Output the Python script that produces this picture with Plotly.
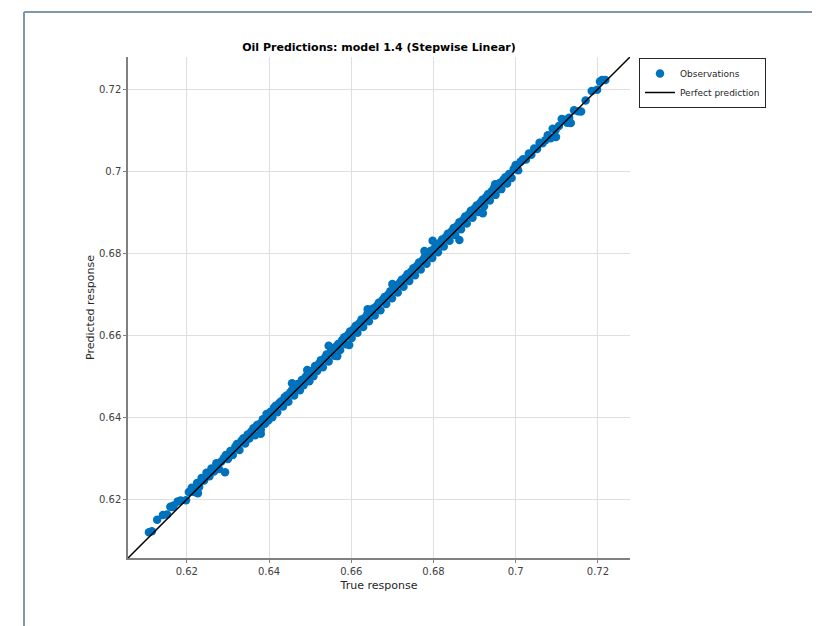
import plotly.graph_objects as go

# ---- data ----
true_resp = [
    0.6108, 0.6115, 0.6128, 0.6142, 0.6152, 0.6160, 0.6168, 0.6178, 0.6185, 0.6198,
    0.6205, 0.6212, 0.6218, 0.6225, 0.6230, 0.6236, 0.6242, 0.6248, 0.6255, 0.6260,
    0.6266, 0.6272, 0.6278, 0.6284, 0.6290, 0.6295, 0.6300, 0.6306, 0.6312, 0.6318,
    0.6322, 0.6328, 0.6333, 0.6338, 0.6342, 0.6348, 0.6352, 0.6357, 0.6362, 0.6366,
    0.6371, 0.6376, 0.6380, 0.6385, 0.6390, 0.6394, 0.6398, 0.6403, 0.6408, 0.6412,
    0.6416, 0.6420, 0.6425, 0.6430, 0.6434, 0.6438, 0.6443, 0.6447, 0.6452, 0.6456,
    0.6461, 0.6466, 0.6470, 0.6475, 0.6480, 0.6484, 0.6489, 0.6494, 0.6498, 0.6503,
    0.6508, 0.6512, 0.6517, 0.6522, 0.6526, 0.6531, 0.6536, 0.6540, 0.6545, 0.6550,
    0.6555, 0.6559, 0.6564, 0.6569, 0.6573, 0.6578, 0.6583, 0.6587, 0.6592, 0.6597,
    0.6601, 0.6606, 0.6611, 0.6615, 0.6620, 0.6625, 0.6629, 0.6634, 0.6639, 0.6643,
    0.6648, 0.6653, 0.6657, 0.6662, 0.6667, 0.6671, 0.6676, 0.6681, 0.6685, 0.6690,
    0.6695, 0.6699, 0.6704, 0.6709, 0.6713, 0.6718, 0.6723, 0.6727, 0.6732, 0.6737,
    0.6741, 0.6746, 0.6751, 0.6755, 0.6760, 0.6765, 0.6769, 0.6774, 0.6779, 0.6783,
    0.6788, 0.6793, 0.6797, 0.6802, 0.6807, 0.6811, 0.6816, 0.6821, 0.6825, 0.6830,
    0.6835, 0.6839, 0.6844, 0.6849, 0.6853, 0.6858, 0.6863, 0.6867, 0.6872, 0.6877,
    0.6881, 0.6886, 0.6891, 0.6895, 0.6900, 0.6905, 0.6909, 0.6914, 0.6919, 0.6923,
    0.6928, 0.6933, 0.6937, 0.6942, 0.6947, 0.6951, 0.6956, 0.6961, 0.6965, 0.6970,
    0.6975, 0.6979, 0.6984, 0.6990, 0.6995, 0.7000, 0.7006, 0.7012, 0.7018, 0.7025,
    0.7032, 0.7038, 0.7045, 0.7052, 0.7058, 0.7065, 0.7072, 0.7078, 0.7085, 0.7090,
    0.7097, 0.7105, 0.7112, 0.7118, 0.7125, 0.7130, 0.7142, 0.7152, 0.7170, 0.7185,
    0.7198, 0.7210, 0.7218,
    # scattered points further from the line
    0.6798, 0.6778, 0.6863, 0.6456, 0.6493, 0.6566, 0.6595, 0.6545, 0.6293, 0.6227,
    0.6166, 0.7159, 0.7134, 0.7098, 0.7205, 0.6700, 0.6920, 0.6380, 0.6640, 0.6950,
]
predicted_resp = [
    0.6120, 0.6122, 0.6150, 0.6162, 0.6163, 0.6182, 0.6185, 0.6195, 0.6197, 0.6198,
    0.6218, 0.6228, 0.6218, 0.6240, 0.6230, 0.6252, 0.6246, 0.6265, 0.6256, 0.6275,
    0.6268, 0.6288, 0.6274, 0.6292, 0.6300, 0.6308, 0.6298, 0.6318, 0.6308, 0.6328,
    0.6335, 0.6320, 0.6343, 0.6349, 0.6336, 0.6358, 0.6348, 0.6365, 0.6373, 0.6356,
    0.6381, 0.6383, 0.6370, 0.6395, 0.6384, 0.6408, 0.6392, 0.6413, 0.6400, 0.6423,
    0.6428, 0.6412, 0.6435, 0.6439, 0.6426, 0.6449, 0.6453, 0.6438, 0.6461, 0.6466,
    0.6453, 0.6475, 0.6481, 0.6466, 0.6491, 0.6478, 0.6498, 0.6506, 0.6488, 0.6513,
    0.6500, 0.6525, 0.6513, 0.6531, 0.6539, 0.6522, 0.6545, 0.6553, 0.6536, 0.6559,
    0.6568, 0.6550, 0.6573, 0.6579, 0.6564, 0.6588, 0.6595, 0.6578, 0.6601, 0.6609,
    0.6593, 0.6615, 0.6623, 0.6606, 0.6629, 0.6638, 0.6620, 0.6643, 0.6651, 0.6634,
    0.6658, 0.6665, 0.6648, 0.6671, 0.6679, 0.6661, 0.6686, 0.6693, 0.6676, 0.6699,
    0.6707, 0.6690, 0.6713, 0.6721, 0.6704, 0.6728, 0.6735, 0.6718, 0.6741, 0.6749,
    0.6732, 0.6755, 0.6763, 0.6746, 0.6769, 0.6777, 0.6760, 0.6783, 0.6791, 0.6774,
    0.6798, 0.6805, 0.6788, 0.6811, 0.6819, 0.6802, 0.6825, 0.6833, 0.6816, 0.6839,
    0.6847, 0.6830, 0.6853, 0.6861, 0.6844, 0.6867, 0.6875, 0.6858, 0.6881, 0.6889,
    0.6872, 0.6895, 0.6903, 0.6886, 0.6909, 0.6916, 0.6900, 0.6923, 0.6930, 0.6914,
    0.6937, 0.6944, 0.6928, 0.6951, 0.6958, 0.6942, 0.6965, 0.6971, 0.6956, 0.6979,
    0.6985, 0.6970, 0.6993, 0.6983, 0.7005, 0.7015, 0.7002, 0.7023, 0.7029, 0.7028,
    0.7043, 0.7040, 0.7055, 0.7054, 0.7069, 0.7068, 0.7075, 0.7087, 0.7080, 0.7103,
    0.7100, 0.7110, 0.7127, 0.7125, 0.7118, 0.7130, 0.7148, 0.7146, 0.7172, 0.7195,
    0.7198, 0.7222, 0.7222,
    0.6830, 0.6805, 0.6832, 0.6483, 0.6515, 0.6549, 0.6576, 0.6574, 0.6266, 0.6215,
    0.6181, 0.7145, 0.7117, 0.7083, 0.7218, 0.6725, 0.6897, 0.6360, 0.6663, 0.6968,
]
axis_range = [0.6057, 0.7278]
tick_vals = [0.62, 0.64, 0.66, 0.68, 0.70, 0.72]
tick_text = ["0.62", "0.64", "0.66", "0.68", "0.7", "0.72"]

# page body adds an 8px offset; figure coords are reference coords minus 8
OFF = 8
W, H = 820 - OFF, 626 - OFF
L, R, T, B = 128 - OFF, 630 - OFF, 57 - OFF, 558 - OFF
pw, ph = R - L, B - T

def px(x):  # reference pixel x -> paper
    return (x - OFF - L) / pw

def py(y):  # reference pixel y -> paper
    return (B - (y - OFF)) / ph

fig = go.Figure()
fig.add_trace(go.Scatter(
    x=true_resp, y=predicted_resp, mode="markers", name="Observations",
    marker=dict(color="#0072BD", size=8.5, line=dict(width=0)),
))
fig.add_trace(go.Scatter(
    x=axis_range, y=axis_range, mode="lines", name="Perfect prediction",
    line=dict(color="black", width=1.5),
))

axis_common = dict(
    range=axis_range, tickvals=tick_vals, ticktext=tick_text,
    showgrid=True, gridcolor="#dfdfdf", gridwidth=1,
    showline=True, linecolor="#808080", linewidth=1.5,
    ticks="outside", ticklen=3, tickcolor="#808080",
    tickfont=dict(family="DejaVu Sans", size=10, color="#404040"),
    zeroline=False, mirror=False,
)

fig.update_layout(
    width=W, height=H,
    margin=dict(l=L, r=W - R, t=T, b=H - B),
    paper_bgcolor="white", plot_bgcolor="white",
    xaxis=dict(**axis_common,
               title=dict(text="True response", standoff=6,
                          font=dict(family="DejaVu Sans", size=11, color="#262626"))),
    yaxis=dict(**axis_common,
               title=dict(text="Predicted response", standoff=2,
                          font=dict(family="DejaVu Sans", size=11, color="#262626"))),
    title=dict(text="<b>Oil Predictions: model 1.4 (Stepwise Linear)</b>",
               x=(379 - OFF) / W, xanchor="center", y=1 - (47 - OFF) / H, yanchor="middle",
               font=dict(family="DejaVu Sans", size=11, color="black")),
    legend=dict(x=px(639), y=py(58), xanchor="left", yanchor="top",
                bgcolor="white", bordercolor="#262626", borderwidth=1,
                font=dict(family="DejaVu Sans", size=9, color="#262626"),
                itemwidth=30, tracegroupgap=0),
    showlegend=True,
)

# outer frame lines (top and left)
fig.add_shape(type="line", xref="paper", yref="paper",
              x0=px(24), x1=px(820), y0=py(12), y1=py(12),
              line=dict(color="#7f98ab", width=2))
fig.add_shape(type="line", xref="paper", yref="paper",
              x0=px(24), x1=px(24), y0=py(12), y1=py(630),
              line=dict(color="#7f98ab", width=2))

fig.write_html("out.html")
